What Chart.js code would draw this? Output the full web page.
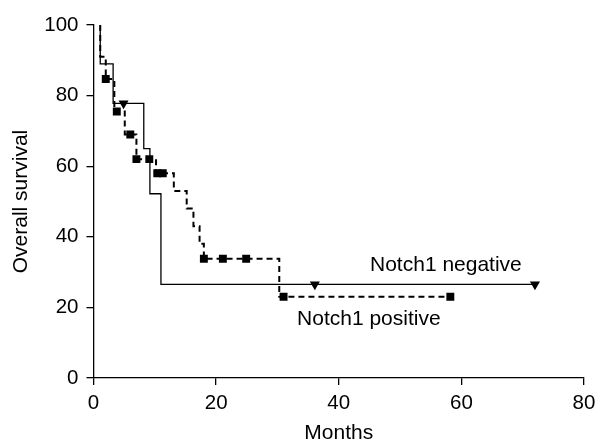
<!DOCTYPE html>
<html>
<head>
<meta charset="utf-8">
<script src="https://cdn.jsdelivr.net/npm/chart.js@4"></script>
<style>
html,body{margin:0;padding:0;background:#fff;}
#wrap{width:598px;height:441px;position:relative;}
</style>
</head>
<body>
<div id="wrap"><canvas id="c" width="598" height="441"></canvas></div>
<script>
// Notch1 negative (solid) Kaplan-Meier steps
const negTimes = [1.1, 1.1, 3.2, 8.2, 9.2, 11.0, 72.0];
const negSurv  = [100, 89, 77.8, 65, 52.2, 26.5, 26.5];
const negCensorTimes = [4.9, 36.1, 72.0];
const negCensorSurv  = [77.8, 26.5, 26.5];

// Notch1 positive (dashed) Kaplan-Meier steps
const posTimes = [1.1, 1.1, 2.0, 3.4, 5.1, 7.0, 10.2, 13.1, 15.2, 16.3, 17.3, 18.0, 30.3, 58.2];
const posSurv  = [100, 91, 84.7, 75.5, 69, 62, 58, 53, 48, 43, 38, 33.8, 23, 23];
const posCensorTimes = [2.0, 3.8, 6.0, 7.0, 9.1, 10.4, 11.3, 18.0, 21.1, 24.9, 31.0, 58.2];
const posCensorSurv  = [84.7, 75.5, 69, 62, 62, 58, 58, 33.8, 33.8, 33.8, 23, 23];

const xTicks = [0, 20, 40, 60, 80];
const yTicks = [0, 20, 40, 60, 80, 100];

const seriesLabels = ['Notch1 negative', 'Notch1 positive'];
const labelPos = [[45.1, 32.0], [33.2, 16.7]];

const zip = (a, b) => a.map((v, i) => ({x: v, y: b[i]}));
const FONT = 'Liberation Sans, Arial, sans-serif';
const FS = 20.5;
const FT = 21;

const annot = {
  id: 'annot',
  afterDatasetsDraw(chart) {
    const {ctx, scales: {x, y}} = chart;
    ctx.save();
    ctx.fillStyle = '#000';
    ctx.font = FT + 'px ' + FONT;
    ctx.textAlign = 'left';
    ctx.textBaseline = 'middle';
    seriesLabels.forEach((t, i) => {
      ctx.fillText(t, x.getPixelForValue(labelPos[i][0]), y.getPixelForValue(labelPos[i][1]));
    });
    ctx.restore();
  }
};

new Chart(document.getElementById('c'), {
  type: 'line',
  data: {
    datasets: [
      {data: zip(negTimes, negSurv), borderColor: '#000', borderWidth: 1.3, stepped: 'before', pointRadius: 0, fill: false},
      {data: zip(posTimes, posSurv), borderColor: '#000', borderWidth: 2, borderDash: [6, 4], stepped: 'before', pointRadius: 0, fill: false},
      {type: 'scatter', data: zip(negCensorTimes, negCensorSurv), showLine: false, pointStyle: 'triangle', rotation: 180, pointRadius: 5.8, backgroundColor: '#000', borderColor: '#000', borderWidth: 0},
      {type: 'scatter', data: zip(posCensorTimes, posCensorSurv), showLine: false, pointStyle: 'rect', pointRadius: 5.6, backgroundColor: '#000', borderColor: '#000', borderWidth: 0}
    ]
  },
  options: {
    responsive: false,
    animation: false,
    events: [],
    layout: {padding: {left: 0, right: 14, top: 25, bottom: 0}},
    plugins: {legend: {display: false}, tooltip: {enabled: false}},
    scales: {
      x: {
        type: 'linear', min: 0, max: 80,
        afterBuildTicks: s => { s.ticks = xTicks.map(v => ({value: v})); },
        afterFit: s => { s.height = 63; s.paddingRight = 0; s.paddingLeft = 0; },
        ticks: {color: '#000', font: {family: FONT, size: FS}, padding: 6, maxRotation: 0},
        grid: {drawOnChartArea: false, drawTicks: true, tickLength: 7, color: '#000', lineWidth: 1.3},
        border: {color: '#000', width: 1.3},
        title: {display: true, text: 'Months', color: '#000', font: {family: FONT, size: FT, lineHeight: 1}, padding: {top: 0, bottom: -3}}
      },
      y: {
        type: 'linear', min: 0, max: 100,
        afterBuildTicks: s => { s.ticks = yTicks.map(v => ({value: v})); },
        afterFit: s => { s.width = 93.5; s.paddingTop = 0; s.paddingBottom = 0; },
        ticks: {color: '#000', font: {family: FONT, size: FS}, padding: 8},
        grid: {drawOnChartArea: false, drawTicks: true, tickLength: 7, color: '#000', lineWidth: 1.3},
        border: {color: '#000', width: 1.3},
        title: {display: true, text: 'Overall survival', color: '#000', font: {family: FONT, size: FT, lineHeight: 1}, padding: {top: 11, bottom: 0}}
      }
    }
  },
  plugins: [annot]
});
</script>
</body>
</html>
